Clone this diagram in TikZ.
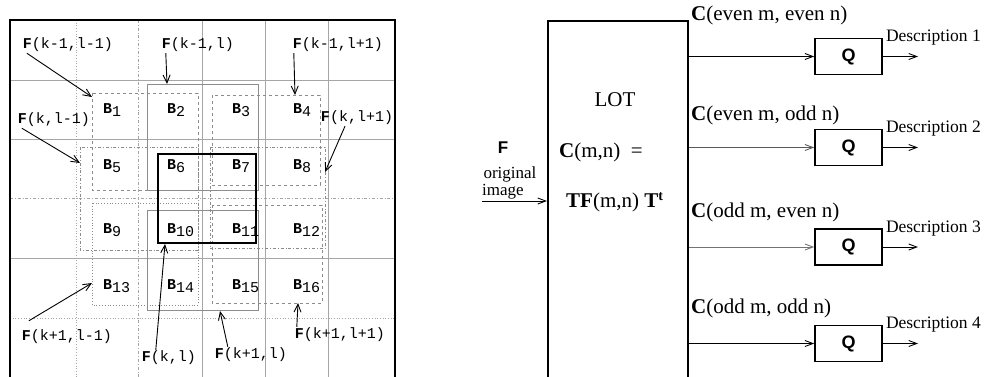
\documentclass[tikz,border=0pt]{standalone}
\usepackage{fontspec}
\setmainfont{Liberation Serif}
\setsansfont{Liberation Sans}
\newfontfamily\gridfont{Liberation Mono}
\usetikzlibrary{arrows.meta,positioning}

\newcommand{\blk}[1]{\textbf{B}\raisebox{-3pt}{#1}}

\begin{document}
\begin{tikzpicture}[x=1pt, y=-1pt,
  grid/.style={black!35, line width=0.7pt},
  win/.style={black!45, line width=0.8pt},
  frame/.style={draw, line width=2.4pt},
  flab/.style={font=\gridfont\fontsize{15}{15}\selectfont, inner sep=1pt},
  blab/.style={font=\gridfont\fontsize{15}{15}\selectfont, inner sep=0pt},
  farr/.style={-{Straight Barb[length=8pt,width=7pt]}, line width=0.9pt},
  arr/.style={-{Straight Barb[length=8pt,width=6pt]}, line width=0.9pt},
  lotbox/.style={draw, line width=2.4pt, minimum width=140pt, minimum height=420pt, anchor=north west},
  qbox/.style={draw, line width=1.6pt, minimum width=67pt, minimum height=36pt, font=\sffamily\bfseries\fontsize{18}{18}\selectfont},
  lotlab/.style={font=\fontsize{21}{21}\selectfont, inner sep=1pt},
  inlab/.style={font=\fontsize{17}{17}\selectfont, inner sep=0pt},
  clab/.style={font=\fontsize{21}{21}\selectfont, inner sep=1pt, anchor=west},
  desc/.style={font=\fontsize{17.5}{17.5}\selectfont, inner sep=1pt, anchor=west}
]
\useasboundingbox (0,0) rectangle (990,376);

% image plane, block grid
\draw[grid, dotted] (76,20) -- (76,400);
\draw[grid, dash dot] (138,20) -- (138,400);
\draw[grid] (202,20) -- (202,400);
\draw[grid] (265,20) -- (265,400);
\draw[grid] (328,20) -- (328,400);
\draw[grid] (10,80) -- (395,80);
\draw[grid] (10,139) -- (395,139);
\draw[grid, dash dot] (10,198) -- (395,198);
\draw[grid] (10,258) -- (395,258);
\draw[grid, dotted] (10,318) -- (395,318);

% overlapping windows
\draw[win, dashed] (92,93) rectangle (198,190);
\draw[win] (147,84) rectangle (258,190);
\draw[win, dashed] (212,95) rectangle (320,185);
\draw[win, dash dot] (80,147) rectangle (198,250);
\draw[win, dash dot] (210,147) rectangle (325,248);
\draw[win, dotted] (92,203) rectangle (198,305);
\draw[win] (147,210) rectangle (258,310);
\draw[win, dashed] (212,205) rectangle (322,303);
\draw[line width=1.6pt] (158,154) rectangle (256,243);

\draw[frame] (10,20) rectangle (395,400);

% blocks
\foreach \r/\yy in {0/113,1/169,2/233,3/289}
  \foreach \c/\xx in {1/103,2/167,3/232,4/293} {
    \pgfmathtruncatemacro\n{4*\r+\c}
    \node[blab, anchor=base west] (b\n) at (\xx,\yy) {\blk{\n}};
  }

% window labels
\node[flab] (fa) at (68,45) {\textbf{F}(k-1,l-1)};
\node[flab] (fb) at (198,45) {\textbf{F}(k-1,l)};
\node[flab] (fc) at (338,45) {\textbf{F}(k-1,l+1)};
\node[flab] (fd) at (54,120) {\textbf{F}(k,l-1)};
\node[flab] (fe) at (357,118) {\textbf{F}(k,l+1)};
\node[flab] (ff) at (67,337) {\textbf{F}(k+1,l-1)};
\node[flab] (fg) at (169,358) {\textbf{F}(k,l)};
\node[flab] (fh) at (251,355) {\textbf{F}(k+1,l)};
\node[flab] (fi) at (340,335) {\textbf{F}(k+1,l+1)};

\coordinate (t1) at (92,97);
\coordinate (t2) at (167,84);
\coordinate (t3) at (295,95);
\coordinate (t4) at (80,163);
\coordinate (t5) at (325,172);
\coordinate (t6) at (92,283);
\coordinate (t7) at (165,244);
\coordinate (t8) at (220,311);
\coordinate (t9) at (298,303);

\draw[farr] ([xshift=5pt]fa.south west) -- (t1);
\draw[farr] ([xshift=5pt]fb.south west) -- (t2);
\draw[farr] ([xshift=2pt]fc.south west) -- (t3);
\draw[farr] ([xshift=5pt]fd.south west) -- (t4);
\draw[farr] ([xshift=-12pt]fe.south) -- (t5);
\draw[farr] ([xshift=8pt,yshift=8pt]ff.north west) -- (t6);
\draw[farr] ([xshift=15pt]fg.north west) -- (t7);
\draw[farr] ([xshift=14pt]fh.north west) -- (t8);
\draw[farr] ([xshift=3pt]fi.north west) -- (t9);

% transform stage
\node[lotbox] (lot) at (547,20) {};
\node[lotlab] (lotname) at (615,100) {LOT};
\node[lotlab, anchor=west] (eq1) at (558,152) {\textbf{C}(m,n)\ \ =};
\node[lotlab, anchor=west] (eq2) at (565,202) {\textbf{TF}(m,n) \textbf{T}\raisebox{7pt}{\fontsize{14}{14}\selectfont\textbf{t}}};

\node[font=\sffamily\bfseries\fontsize{17}{17}\selectfont] (fin) at (503,148) {F};
\node[inlab] (orig) at (510,174) {original};
\node[inlab] (img) at (503,192) {image};
\coordinate (imgin) at (482,201);
\draw[arr] (imgin) -- (imgin -| lot.west);

% subbands and quantizers
\foreach \i/\yy/\cl in {1/56.5/black, 2/147.5/black!65, 3/247/black!55, 4/343.5/black} {
  \node[qbox] (q\i) at (848.5,\yy) {Q};
  \draw[arr, \cl] (lot.east |- q\i.west) -- (q\i.west);
  \coordinate (d\i) at (918,\yy);
  \draw[arr] (q\i.east) -- (d\i);
  \node[desc] (desc\i) at ([xshift=2pt]q\i.north east) {Description \i};
}
\foreach \i/\yy/\t in {1/15/{even m, even n}, 2/115/{even m, odd n}, 3/212/{odd m, even n}, 4/308/{odd m, odd n}}
  \node[clab] (c\i) at (690,\yy) {\textbf{C}(\t)};
\end{tikzpicture}
\end{document}
